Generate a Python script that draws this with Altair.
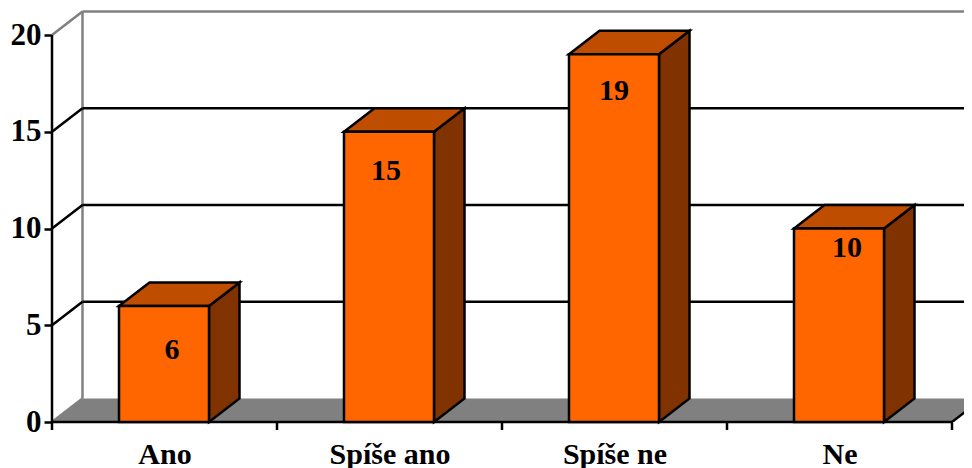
import altair as alt
import pandas as pd

CATEGORIES = ["Ano", "Spíše ano", "Spíše ne", "Ne"]
VALUES = [6, 15, 19, 10]
Y_TICKS = [0, 5, 10, 15, 20]
GRID_VALUES = [5, 10, 15]
BOUNDARIES = [0, 1, 2, 3, 4]
# hand-placed data labels: (dx, dy) in pixels from the bar's front-top centre
LABEL_NUDGE = [(8, 44), (-3, 39), (0, 37), (8, 19)]

PX_PER_UNIT_Y = 19.35
PX_PER_CAT = 225.0
W, H = 912, 410
XMAX = W / PX_PER_CAT
YMAX = H / PX_PER_UNIT_Y
DX = 30.5 / PX_PER_CAT
DY = 23.5 / PX_PER_UNIT_Y
BAR_L, BAR_R = 67 / PX_PER_CAT, 157 / PX_PER_CAT
NCATS = len(CATEGORIES)

FRONT, TOP, SIDE = "#FF6600", "#BF4D00", "#803300"
GRAY = "#808080"
FONT = "Liberation Serif"
LW = 2.5

xs = alt.Scale(domain=[0, XMAX], nice=False, zero=False)
ys = alt.Scale(domain=[0, YMAX], nice=False, zero=False)


def X(f="x", **k):
    return alt.X(f + ":Q", scale=xs, axis=None, **k)


def Y(f="y", **k):
    return alt.Y(f + ":Q", scale=ys, axis=None, **k)


def seg(rows, color, width=LW, clip=False):
    return (
        alt.Chart(pd.DataFrame(rows, columns=["x", "y", "x2", "y2"]))
        .mark_rule(color=color, strokeWidth=width, clip=clip)
        .encode(x=X(), y=Y(), x2="x2:Q", y2="y2:Q")
    )


# floor
floor = alt.Chart(
    pd.DataFrame(
        {"y": [0, DY], "a": [0, DX], "b": [NCATS, NCATS + DX]}
    )
).mark_area(orient="horizontal", color=GRAY, clip=True).encode(
    y=Y(), x=X("a"), x2="b:Q"
)

# walls
back_top = seg([(DX, 20 + DY, XMAX, 20 + DY)], GRAY)
back_left = seg([(DX, DY, DX, 20 + DY)], GRAY)
back_grid = seg([(DX, v + DY, XMAX, v + DY) for v in GRID_VALUES], "black")
side_grid = seg([(0, v, DX, v + DY) for v in GRID_VALUES], "black")
side_top = seg([(0, 20, DX, 20 + DY)], GRAY)
side_floor = seg([(0, 0, DX, DY)], GRAY)
right_floor = seg([(NCATS, 0, NCATS + DX, DY)], "black", clip=True)

# front axes
front_x = seg([(0, 0, NCATS, 0)], "black")
front_y = seg([(0, 0, 0, 20)], "black")

# x ticks
xticks = (
    alt.Chart(pd.DataFrame({"x": BOUNDARIES}))
    .mark_rule(color="black", strokeWidth=LW)
    .encode(x=X(), y=alt.value(H), y2=alt.value(H + 8))
)

# axes with labels
label_expr = "[" + ",".join(f"'{c}'" for c in CATEGORIES) + "][floor(datum.value)]"
axes = (
    alt.Chart(pd.DataFrame({"x": [0.5], "y": [0]}))
    .mark_point(opacity=0)
    .encode(
        x=alt.X(
            "x:Q",
            scale=xs,
            axis=alt.Axis(
                values=[i + 0.5 for i in range(NCATS)],
                labelExpr=label_expr,
                ticks=False,
                domain=False,
                grid=False,
                title=None,
                labelFont=FONT,
                labelFontWeight="bold",
                labelFontSize=30,
                labelColor="black",
                labelPadding=17,
                labelOverlap=False,
                labelFlush=False,
            ),
        ),
        y=alt.Y(
            "y:Q",
            scale=ys,
            axis=alt.Axis(
                values=Y_TICKS,
                ticks=True,
                tickSize=8,
                tickWidth=LW,
                tickColor="black",
                domain=False,
                grid=False,
                title=None,
                labelFont=FONT,
                labelFontWeight="bold",
                labelFontSize=31,
                labelColor="black",
                labelPadding=3,
                labelOverlap=False,
                labelFlush=False,
            ),
        ),
    )
)

# bars
bars = pd.DataFrame(
    {
        "c": CATEGORIES,
        "v": VALUES,
        "l": [i + BAR_L for i in range(NCATS)],
        "r": [i + BAR_R for i in range(NCATS)],
    }
)
bars["zero"] = 0
front = (
    alt.Chart(bars)
    .mark_rect(color=FRONT, stroke="black", strokeWidth=LW)
    .encode(x=X("l"), x2="r:Q", y=Y("zero"), y2="v:Q")
)

side_rows, top_rows = [], []
for c, v, l, r in zip(bars.c, bars.v, bars.l, bars.r):
    side_rows += [
        {"c": c, "x": r, "lo": 0, "hi": v},
        {"c": c, "x": r + DX, "lo": DY, "hi": v + DY},
    ]
    top_rows += [
        {"c": c, "y": v, "a": l, "b": r},
        {"c": c, "y": v + DY, "a": l + DX, "b": r + DX},
    ]

side = (
    alt.Chart(pd.DataFrame(side_rows))
    .mark_area(color=SIDE, stroke="black", strokeWidth=LW, opacity=1)
    .encode(x=X(), y=Y("lo"), y2="hi:Q", detail="c:N")
)
top = (
    alt.Chart(pd.DataFrame(top_rows))
    .mark_area(orient="horizontal", color=TOP, stroke="black", strokeWidth=LW, opacity=1)
    .encode(y=Y(), x=X("a"), x2="b:Q", detail="c:N")
)

# data labels
labels = []
for i, (c, v, (ndx, ndy)) in enumerate(zip(CATEGORIES, VALUES, LABEL_NUDGE)):
    labels.append(
        alt.Chart(pd.DataFrame({"x": [i + (BAR_L + BAR_R) / 2], "y": [v], "t": [str(v)]}))
        .mark_text(
            font=FONT,
            fontWeight="bold",
            fontSize=30,
            color="black",
            dx=ndx,
            dy=ndy,
            baseline="middle",
            align="center",
        )
        .encode(x=X(), y=Y(), text="t:N")
    )

chart = (
    alt.layer(
        axes,
        floor,
        back_top,
        back_left,
        back_grid,
        side_grid,
        side_top,
        side_floor,
        right_floor,
        front_x,
        front_y,
        xticks,
        side,
        top,
        front,
        *labels,
    )
    .resolve_axis(x="independent", y="independent")
    .properties(
        width=W,
        height=H,
        autosize=alt.AutoSizeParams(type="none"),
        padding={"left": 44, "top": 4, "right": 0, "bottom": 46},
        background="white",
    )
    .configure_view(stroke=None)
)

chart.save("out.html", embed_options={"renderer": "svg", "actions": False})
